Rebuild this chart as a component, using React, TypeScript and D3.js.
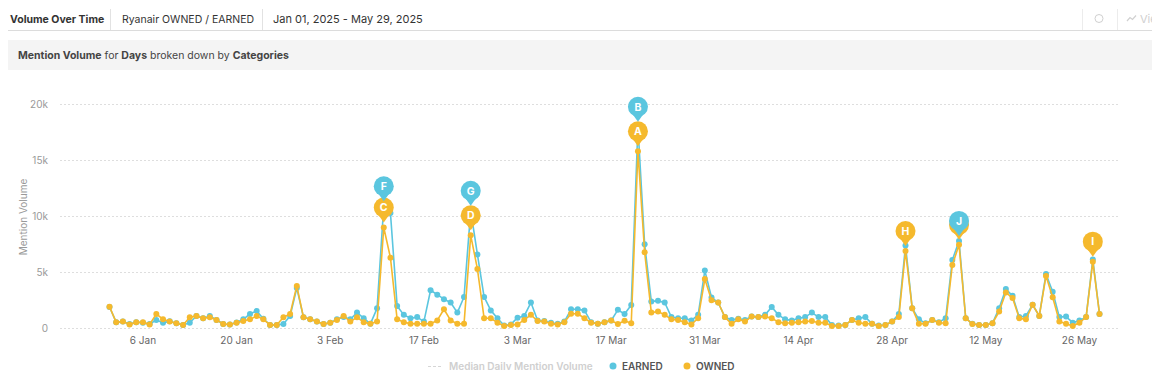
import React from "react";
import * as d3 from "d3";

const START_DATE = "2025-01-01";
const END_DATE = "2025-05-29";

const owned = [
  1930, 530, 600, 350, 530, 530, 350, 1280, 800, 600,
  450, 300, 980, 1100, 900, 980, 750, 380, 330, 500,
  660, 800, 1100, 800, 300, 300, 980, 1280, 3780, 980,
  800, 600, 380, 500, 750, 1100, 600, 980, 550, 400,
  600, 9000, 6300, 800, 550, 400, 400, 400, 400, 700,
  1700, 700, 400, 400, 8300, 5300, 900, 900, 500, 200,
  300, 350, 750, 1200, 650, 600, 400, 350, 550, 1300,
  1300, 900, 500, 400, 550, 700, 380, 680, 450, 15800,
  6800, 1400, 1500, 1200, 800, 750, 550, 350, 900, 4400,
  2500, 2300, 1000, 400, 800, 600, 1050, 1000, 1050, 900,
  550, 450, 500, 550, 600, 650, 500, 500, 200, 200,
  300, 740, 500, 400, 400, 200, 300, 600, 1000, 6900,
  1800, 400, 400, 740, 500, 450, 5650, 7450, 900, 380,
  300, 300, 450, 1500, 3200, 2700, 900, 800, 2100, 1100,
  4670, 2770, 600, 400, 200, 500, 1000, 5950, 1280,
];

const earned = [
  1900, 550, 600, 380, 550, 500, 380, 740, 500, 620,
  450, 300, 500, 1100, 900, 1100, 750, 380, 330, 520,
  800, 1280, 1550, 850, 300, 300, 380, 1100, 3600, 980,
  800, 600, 380, 500, 800, 1000, 800, 1400, 900, 400,
  1780, 10900, 10300, 2000, 1200, 900, 1000, 600, 3400, 3000,
  2600, 2300, 1400, 2800, 10500, 6600, 2800, 1600, 900, 250,
  350, 950, 1100, 2300, 700, 650, 500, 400, 600, 1700,
  1700, 1600, 550, 400, 550, 700, 1650, 1280, 2080, 18000,
  7500, 2400, 2450, 2300, 1000, 900, 900, 700, 1200, 5150,
  2750, 2300, 1000, 750, 850, 750, 1050, 1000, 1200, 1900,
  1200, 800, 700, 900, 1000, 1400, 1000, 1000, 300, 250,
  300, 740, 900, 1000, 400, 250, 300, 600, 1280, 7400,
  1800, 800, 450, 740, 550, 900, 6100, 7800, 900, 400,
  300, 300, 450, 1800, 3500, 2900, 1000, 1100, 2100, 1100,
  4850, 3270, 1000, 1050, 500, 700, 1000, 6150, 1280,
];

const tickDates = [
  "2025-01-06", "2025-01-20", "2025-02-03", "2025-02-17", "2025-03-03", "2025-03-17",
  "2025-03-31", "2025-04-14", "2025-04-28", "2025-05-12", "2025-05-26",
];
const tickLabels = ["6 Jan", "20 Jan", "3 Feb", "17 Feb", "3 Mar", "17 Mar", "31 Mar", "14 Apr", "28 Apr", "12 May", "26 May"];

const yTicks = [0, 5000, 10000, 15000, 20000];
const yTickLabels = ["0", "5k", "10k", "15k", "20k"];

const markerLabels = ["E", "C", "D", "H", "A", "I", "F", "G", "B", "J"];
const markerSeries = ["owned", "owned", "owned", "owned", "owned", "owned", "earned", "earned", "earned", "earned"];
const markerDates = ["2025-05-08", "2025-02-11", "2025-02-24", "2025-04-30", "2025-03-21", "2025-05-28", "2025-02-11", "2025-02-24", "2025-03-21", "2025-05-08"];

const TEAL = "#5bc6df";
const ORANGE = "#f5b92d";
const FONT = "Inter, 'Open Sans', sans-serif";

const parse = d3.utcParse("%Y-%m-%d");

export default function App() {
  const W = 1160;
  const H = 378;
  const start = parse(START_DATE)!;
  const end = parse(END_DATE)!;
  const dates = owned.map((_, i) => d3.utcDay.offset(start, i));

  const x = d3.scaleUtc().domain([start, end]).range([109.5, 1099.5]);
  const y = d3.scaleLinear().domain([0, 20000]).range([328.3, 104.3]);

  const line = d3
    .line<number>()
    .x((_, i) => x(dates[i]))
    .y((d) => y(d));

  const seriesVals: Record<string, number[]> = { owned, earned };
  const seriesColor: Record<string, string> = { owned: ORANGE, earned: TEAL };

  return (
    <div style={{ margin: -8, width: W, height: H, overflow: "hidden", background: "#fff" }}>
      <svg width={W} height={H} style={{ display: "block", fontFamily: FONT }}>
        {/* header */}
        <text x={10} y={23} fontSize={10.5} fontWeight={700} fill="#333">Volume Over Time</text>
        <line x1={110.5} x2={110.5} y1={9} y2={30} stroke="#e2e2e2" />
        <text x={122} y={23} fontSize={10.5} fill="#333">Ryanair OWNED / EARNED</text>
        <line x1={262.5} x2={262.5} y1={9} y2={30} stroke="#e2e2e2" />
        <text x={273} y={23} fontSize={11} fill="#333">Jan 01, 2025 - May 29, 2025</text>
        <line x1={1082.5} x2={1082.5} y1={9} y2={30} stroke="#ececec" />
        <line x1={1117.5} x2={1117.5} y1={9} y2={30} stroke="#ececec" />
        <circle cx={1099} cy={18.5} r={4} fill="none" stroke="#d0d0d0" strokeWidth={1} />
        <path d="M1127,21 L1130,17.5 L1132.5,19.5 L1136,15.5" fill="none" stroke="#d0d0d0" strokeWidth={1.2} />
        <text x={1140} y={23} fontSize={11} fill="#cfcfcf">View</text>
        <line x1={8} x2={1160} y1={30.5} y2={30.5} stroke="#dcdcdc" />

        {/* subtitle band */}
        <rect x={8} y={40} width={1152} height={30} fill="#f4f4f4" />
        <text x={18} y={59} fontSize={10.5} fill="#444">
          <tspan fontWeight={700}>Mention Volume</tspan>
          <tspan> for </tspan>
          <tspan fontWeight={700}>Days</tspan>
          <tspan> broken down by </tspan>
          <tspan fontWeight={700}>Categories</tspan>
        </text>

        {/* grid + y axis */}
        {yTicks.map((t, i) => (
          <g key={t}>
            <line x1={60} x2={1120} y1={Math.round(y(t)) + 0.5} y2={Math.round(y(t)) + 0.5} stroke="#dedede" strokeDasharray="2,2" />
            <text x={48} y={y(t) + 3.5} fontSize={10} fill="#999" textAnchor="end">{yTickLabels[i]}</text>
          </g>
        ))}
        <text transform="translate(27,217) rotate(-90)" fontSize={10} fill="#999" textAnchor="middle">Mention Volume</text>

        {/* x axis labels */}
        {tickDates.map((d, i) => (
          <text key={d} x={x(parse(d)!)} y={344} fontSize={10} fill="#666" textAnchor="middle">{tickLabels[i]}</text>
        ))}

        {/* series */}
        {["earned", "owned"].map((s) => (
          <g key={s}>
            <path d={line(seriesVals[s]) || ""} fill="none" stroke={seriesColor[s]} strokeWidth={1.6} strokeLinejoin="round" />
            {seriesVals[s].map((v, i) => (
              <circle key={i} cx={x(dates[i])} cy={y(v)} r={3} fill={seriesColor[s]} />
            ))}
          </g>
        ))}

        {/* annotation markers */}
        {markerLabels.map((lab, k) => {
          const s = markerSeries[k];
          const d = parse(markerDates[k])!;
          const idx = d3.utcDay.count(start, d);
          const px = x(d);
          const py = y(seriesVals[s][idx]);
          const cy = py - 20;
          const col = seriesColor[s];
          return (
            <g key={lab}>
              <path d={`M${px - 5},${cy + 8} L${px + 5},${cy + 8} L${px},${cy + 15} Z`} fill={col} />
              <circle cx={px} cy={cy} r={10} fill={col} />
              <text x={px} y={cy + 3.8} fontSize={10.5} fontWeight={700} fill="#fff" textAnchor="middle">{lab}</text>
            </g>
          );
        })}

        {/* legend */}
        <line x1={428} x2={441} y1={366.5} y2={366.5} stroke="#d6d6d6" strokeWidth={1.2} strokeDasharray="3,2" />
        <text x={449} y={370} fontSize={10} fontWeight={600} fill="#cfcfcf">Median Daily Mention Volume</text>
        <circle cx={613} cy={366} r={3.5} fill={TEAL} />
        <text x={622} y={370} fontSize={10} fontWeight={600} fill="#555">EARNED</text>
        <circle cx={687} cy={366} r={3.5} fill={ORANGE} />
        <text x={696} y={370} fontSize={10} fontWeight={600} fill="#555">OWNED</text>
      </svg>
    </div>
  );
}
